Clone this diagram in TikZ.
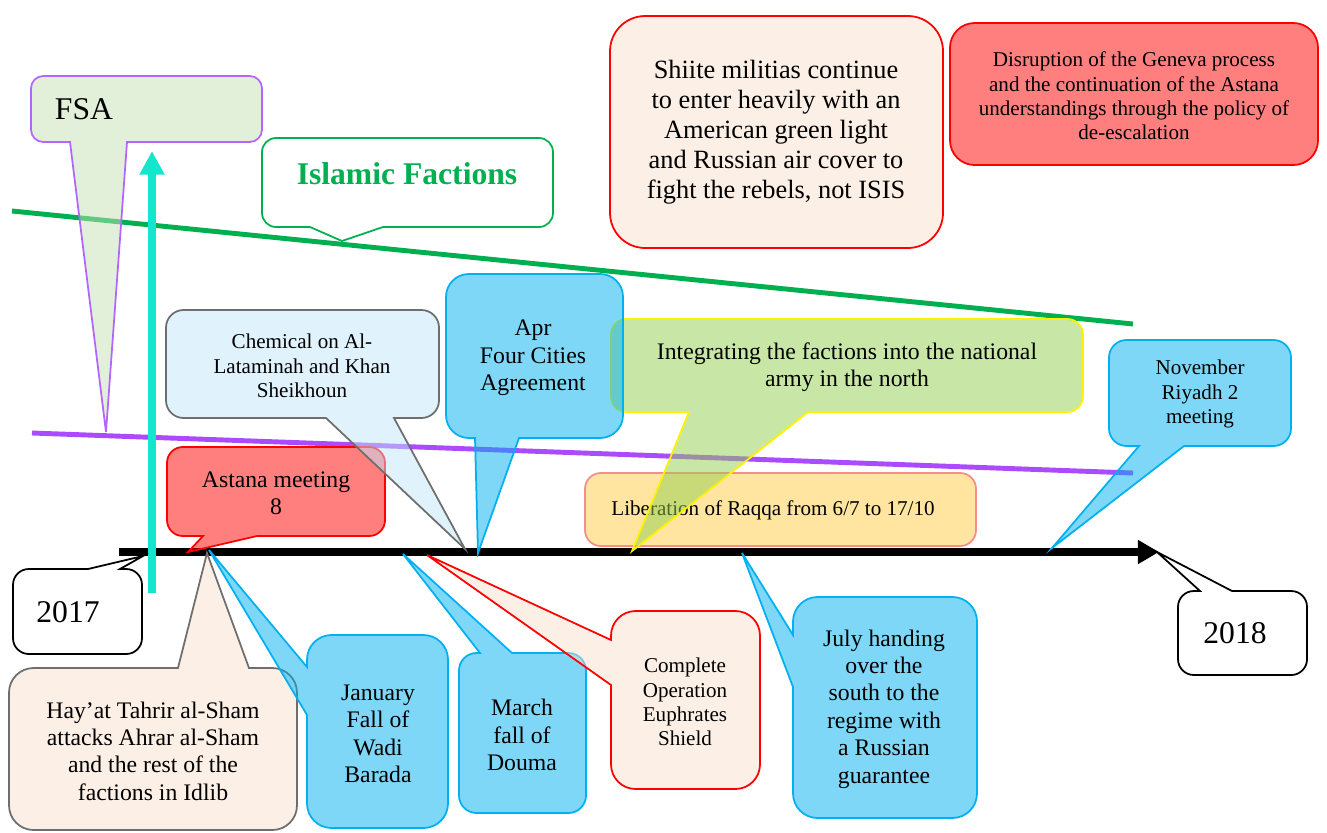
\documentclass[tikz,border=0pt]{standalone}
\usepackage{fontspec}
\setmainfont{Liberation Serif}
\usetikzlibrary{arrows.meta}

\definecolor{calloutBlue}{RGB}{0,176,240}
\definecolor{astanaRed}{RGB}{255,0,0}
\definecolor{armyGreen}{RGB}{146,208,80}
\definecolor{peach}{RGB}{247,223,205}
\definecolor{iceBlue}{RGB}{193,229,249}
\definecolor{fsaFill}{RGB}{197,224,180}
\definecolor{fsaPurple}{RGB}{178,102,255}
\definecolor{raqqaGold}{RGB}{255,203,63}
\definecolor{raqqaEdge}{RGB}{248,140,140}
\definecolor{islamGreen}{RGB}{0,176,80}
\definecolor{lineViolet}{RGB}{170,75,255}
\definecolor{riseCyan}{RGB}{20,230,205}
\definecolor{edgeGray}{RGB}{110,110,110}

\tikzset{
  box/.style={line width=1pt},
  blueBox/.style={box, draw=calloutBlue, fill=calloutBlue, fill opacity=0.5},
  redBox/.style={box, draw=astanaRed, fill=astanaRed, fill opacity=0.5},
  peachRedBox/.style={box, draw=astanaRed, fill=peach, fill opacity=0.5},
  peachGrayBox/.style={box, draw=edgeGray, fill=peach, fill opacity=0.5},
  iceBox/.style={box, draw=edgeGray, fill=iceBlue, fill opacity=0.5},
  armyBox/.style={box, draw=yellow, fill=armyGreen, fill opacity=0.5},
  raqqaBox/.style={box, draw=raqqaEdge, fill=raqqaGold, fill opacity=0.5},
  fsaBox/.style={box, draw=fsaPurple, fill=fsaFill, fill opacity=0.5},
  plainBox/.style={box, draw=black, fill=white},
  islamBox/.style={box, draw=islamGreen, fill=white},
  txt/.style={align=center, inner sep=0pt, font=\fontsize{13.5pt}{15.6pt}\selectfont},
  smalltxt/.style={txt, font=\fontsize{12pt}{13.8pt}\selectfont},
  bigtxt/.style={txt, font=\fontsize{18pt}{21pt}\selectfont},
  trend/.style={line width=2.8pt}
}

\begin{document}
\begin{tikzpicture}[x=0.02cm,y=-0.02cm]
	\useasboundingbox (0,0) rectangle (1327,832);

	% trend lines
	\coordinate (islamA) at (12,211);
	\coordinate (islamB) at (1133,324);
	\coordinate (fsaA) at (32,433);
	\coordinate (fsaB) at (1133,473);
	\draw [trend, islamGreen] (islamA) -- (islamB);
	\draw [trend, lineViolet] (fsaA) -- (fsaB);

	% time axis
	\coordinate (t0) at (119,552);
	\coordinate (t1) at (1159,552);
	\draw [line width=4.5pt, -{Triangle[length=12pt,width=13pt]}] (t0) -- (t1);
	\coordinate (riseA) at (152,593);
	\coordinate (riseB) at (152,151);
	\draw [line width=4.5pt, riseCyan, -{Triangle[length=13.5pt,width=13.5pt]}] (riseA) -- (riseB);

	% upper callouts
	\coordinate (fsaTip) at (106,432);
	\draw [fsaBox] (fsaTip) -- (70,142) [rounded corners=7pt] -- (31,142) -- (31,76) -- (262,76) -- (262,142) [sharp corners] -- (127,142) -- cycle;
	\node [bigtxt] (fsa) at (84,109) {FSA};

	\coordinate (islamTip) at (342,241);
	\draw [islamBox] (islamTip) -- (310,227) [rounded corners=8pt] -- (262,227) -- (262,138) -- (553,138) -- (553,227) [sharp corners] -- (383,227) -- cycle;
	\node [bigtxt, font=\fontsize{18pt}{21pt}\selectfont\bfseries, text=islamGreen] (islamic) at (407,174) {Islamic Factions};

	\draw [peachRedBox, rounded corners=20pt] (610,16) rectangle (943,248);
	\node [txt, font=\fontsize{15pt}{17pt}\selectfont] (shiite) at (776,132) {Shiite militias continue\\to enter heavily with an\\American green light\\and Russian air cover to\\fight the rebels, not ISIS};

	\draw [redBox, rounded corners=14pt] (950,23) rectangle (1318,165);
	\node [smalltxt] (geneva) at (1134,96) {Disruption of the Geneva process\\and the continuation of the Astana\\understandings through the policy of\\de-escalation};

	\coordinate (astanaTip) at (188,552);
	\draw [redBox] (astanaTip) -- (203,536) [rounded corners=9pt] -- (167,536) -- (167,447) -- (385,447) -- (385,536) [sharp corners] -- (257,536) -- cycle;
	\node [txt] (astana) at (276,493) {Astana meeting\\8};

	\coordinate (chemTip) at (465,549);
	\draw [iceBox] (chemTip) -- (326,418) [rounded corners=10pt] -- (166,418) -- (166,310) -- (439,310) -- (439,418) [sharp corners] -- (394,418) -- cycle;
	\node [smalltxt] (chemical) at (302,366) {Chemical on Al-\\Lataminah and Khan\\Sheikhoun};

	\draw [raqqaBox, rounded corners=9pt] (585,473) rectangle (976,546);
	\node [smalltxt] (raqqa) at (773,510) {Liberation of Raqqa from 6/7 to 17/10};

	\coordinate (armyTip) at (632,551);
	\draw [armyBox] (armyTip) -- (689,412) [rounded corners=9pt] -- (611,412) -- (611,319) -- (1083,319) -- (1083,412) [sharp corners] -- (808,412) -- cycle;
	\node [txt] (army) at (847,367) {Integrating the factions into the national\\army in the north};

	\coordinate (aprTip) at (478,553);
	\draw [blueBox] (aprTip) -- (475,438) [rounded corners=13pt] -- (446,438) -- (446,274) -- (623,274) -- (623,438) [sharp corners] -- (519,438) -- cycle;
	\node [txt] (apr) at (533,358) {Apr\\Four Cities\\Agreement};

	\coordinate (riyadhTip) at (1052,548);
	\draw [blueBox] (riyadhTip) -- (1139,446) [rounded corners=10pt] -- (1109,446) -- (1109,340) -- (1291,340) -- (1291,446) [sharp corners] -- (1184,446) -- cycle;
	\node [smalltxt] (riyadh) at (1200,394) {November\\Riyadh 2\\meeting};

	% years
	\coordinate (startTip) at (143,556);
	\draw [plainBox] (startTip) -- (120,569) [rounded corners=9pt] -- (142,569) -- (142,654) -- (13,654) -- (13,569) [sharp corners] -- (88,569) -- cycle;
	\node [bigtxt] (y2017) at (68,612) {2017};

	\coordinate (endTip) at (1157,552);
	\draw [plainBox] (endTip) -- (1200,591) [rounded corners=9pt] -- (1178,591) -- (1178,675) -- (1307,675) -- (1307,591) [sharp corners] -- (1232,591) -- cycle;
	\node [bigtxt] (y2018) at (1235,633) {2018};

	% lower callouts
	\coordinate (hayatTip) at (207,553);
	\draw [peachGrayBox] (hayatTip) -- (178,668) [rounded corners=14pt] -- (9,668) -- (9,830) -- (297,830) -- (297,668) [sharp corners] -- (249,668) -- cycle;
	\node [txt] (hayat) at (153,751) {Hay’at Tahrir al-Sham\\attacks Ahrar al-Sham\\and the rest of the\\factions in Idlib};

	\coordinate (janTip) at (209,550);
	\draw [blueBox] (janTip) -- (307,667) [rounded corners=14pt] -- (307,635) -- (448,635) -- (448,828) -- (307,828) [sharp corners] -- (307,715) -- cycle;
	\node [txt] (january) at (378,734) {January\\Fall of\\Wadi\\Barada};

	\coordinate (marTip) at (403,554);
	\draw [blueBox] (marTip) -- (480,653) [rounded corners=10pt] -- (459,653) -- (459,813) -- (586,813) -- (586,653) [sharp corners] -- (512,653) -- cycle;
	\node [txt] (march) at (522,735) {March\\fall of\\Douma};

	\coordinate (shieldTip) at (427,555);
	\draw [peachRedBox] (shieldTip) -- (611,640) [rounded corners=14pt] -- (611,611) -- (760,611) -- (760,789) -- (611,789) [sharp corners] -- (611,685) -- cycle;
	\node [smalltxt] (shield) at (685,702) {Complete\\Operation\\Euphrates\\Shield};

	\coordinate (julyTip) at (742,553);
	\draw [blueBox] (julyTip) -- (793,635) [rounded corners=14pt] -- (793,597) -- (977,597) -- (977,818) -- (793,818) [sharp corners] -- (793,687) -- cycle;
	\node [txt] (july) at (884,709) {July handing\\over the\\south to the\\regime with\\a Russian\\guarantee};
\end{tikzpicture}
\end{document}
